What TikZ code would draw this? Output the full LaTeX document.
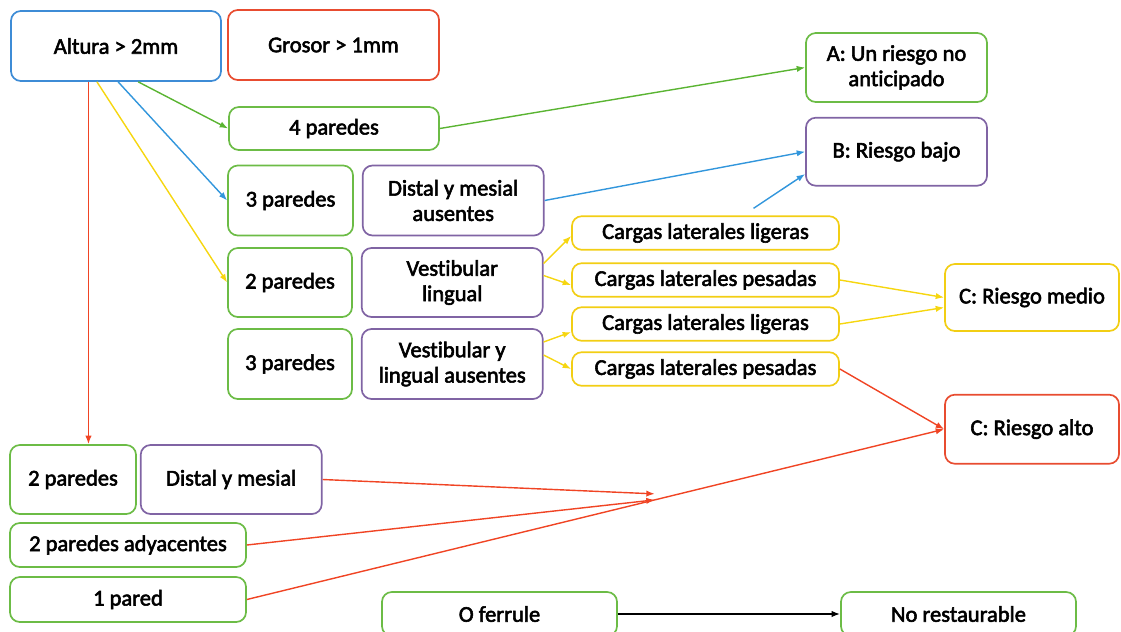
\documentclass[tikz,border=0pt]{standalone}
\usepackage{fontspec}
\setmainfont{Carlito}[Ligatures=NoCommon, FakeBold=2.5]
\usetikzlibrary{arrows.meta, positioning, calc}
\definecolor{boxgreen}{RGB}{108,188,70}
\definecolor{boxblue}{RGB}{62,140,214}
\definecolor{boxred}{RGB}{232,76,48}
\definecolor{boxpurple}{RGB}{128,100,164}
\definecolor{boxyellow}{RGB}{242,206,20}
\definecolor{wiregreen}{RGB}{90,180,50}
\definecolor{wireblue}{RGB}{50,150,220}
\definecolor{wirered}{RGB}{240,68,36}
\definecolor{wireyellow}{RGB}{246,214,16}
\tikzstyle{block} = [draw, rectangle, rounded corners=7pt, line width=1.2pt, align=center, inner sep=2pt, fill=white, font=\fontsize{16}{18}\selectfont]
\tikzstyle{wall} = [block, draw=boxgreen]
\tikzstyle{side} = [block, draw=boxpurple]
\tikzstyle{load} = [block, draw=boxyellow]
\tikzstyle{link} = [-{Latex[length=6pt, width=4.5pt]}, line width=1pt]

\begin{document}
\begin{tikzpicture}[x=0.025cm, y=-0.025cm]
    \clip (0,0) rectangle (1121,632);

    \node (altura) [block, draw=boxblue, minimum width=5.25cm, minimum height=1.75cm] at (116,46) {Altura > 2mm};
    \node (grosor) [block, draw=boxred, minimum width=5.275cm, minimum height=1.75cm] at (333.5,45) {Grosor > 1mm};
    \node (four) [wall, minimum width=5.25cm, minimum height=1.075cm] at (334,128.5) {4 paredes};

    \node (risk a) [wall, minimum width=4.525cm, minimum height=1.725cm] at (896.5,67.5) {A: Un riesgo no\\anticipado};
    \node (risk b) [side, below=0.35cm of risk a, minimum width=4.525cm, minimum height=1.7cm] {B: Riesgo bajo};

    \node (three a) [wall, minimum width=3.125cm, minimum height=1.75cm] at (290.5,200.5) {3 paredes};
    \node (distal a) [side, right=0.2cm of three a, minimum width=4.525cm, minimum height=1.75cm] {Distal y mesial\\ausentes};
    \node (two a) [wall, minimum width=3.1cm, minimum height=1.725cm] at (290,282.5) {2 paredes};
    \node (vest a) [side, right=0.2cm of two a, minimum width=4.525cm, minimum height=1.725cm] {Vestibular\\lingual};
    \node (three b) [wall, minimum width=3.1cm, minimum height=1.75cm] at (290,364) {3 paredes};
    \node (vest b) [side, right=0.2cm of three b, minimum width=4.525cm, minimum height=1.75cm] {Vestibular y\\lingual ausentes};

    \foreach \n/\y/\t in {light 1/233/ligeras, heavy 1/280/pesadas, light 2/324/ligeras, heavy 2/369/pesadas} {%
        \node (\n) [load, minimum width=6.675cm, minimum height=0.84cm] at (705.5,\y) {Cargas laterales \t};
    }

    \node (risk mid) [load, minimum width=4.35cm, minimum height=1.675cm] at (1032,297.5) {C: Riesgo medio};
    \node (risk high) [block, draw=boxred, below=1.55cm of risk mid, minimum width=4.35cm, minimum height=1.725cm] {C: Riesgo alto};

    \node (two b) [wall, minimum width=3.15cm, minimum height=1.725cm] at (73,479.5) {2 paredes};
    \node (distal b) [side, right=0.075cm of two b, minimum width=4.525cm, minimum height=1.725cm] {Distal y mesial};
    \node (adjacent) [wall, minimum width=5.9cm, minimum height=1.1cm] at (128,545) {2 paredes adyacentes};
    \node (one wall) [wall, minimum width=5.9cm, minimum height=1.125cm] at (128,599.5) {1 pared};

    \node (ferrule) [wall, minimum width=5.875cm, minimum height=1.1cm] at (499.5,614) {O ferrule};
    \node (lost) [wall, minimum width=5.875cm, minimum height=1.1cm] at (958.5,614) {No restaurable};

    % Arrows out of the height box.
    \draw [link, wirered] ($(altura.south west)!0.37!(altura.south east)$) coordinate (drop) -- (drop |- two b.north);
    \draw [link, wireyellow] ($(altura.south west)!0.41!(altura.south east)$) -- (two a.west);
    \draw [link, wireblue] ($(altura.south west)!0.51!(altura.south east)$) -- (three a.west);
    \draw [link, wiregreen] ($(altura.south west)!0.605!(altura.south east)$) -- (four.west);

    \draw [link, wiregreen] (four.east) -- (risk a.west);
    \draw [link, wireblue] (distal a.east) -- (risk b.west);
    \draw [link, wireblue] ($(light 1.north)+(48,-7)$) -- ($(risk b.south west)!0.18!(risk b.north west)$);

    \draw [link, wireyellow] ($(vest a.east)+(0,-19)$) -- ($(light 1.west)+(0,3)$);
    \draw [link, wireyellow] ($(vest a.east)+(0,-7)$) -- ($(heavy 1.west)+(0,5)$);
    \draw [link, wireyellow] ($(vest b.east)+(0,-22)$) -- ($(light 2.west)+(0,8)$);
    \draw [link, wireyellow] ($(vest b.east)+(0,-9)$) -- (heavy 2.west);

    \draw [link, wireyellow] (heavy 1.east) -- (risk mid.west);
    \draw [link, wireyellow] (light 2.east) -- ($(risk mid.west)+(0,10)$);
    \draw [link, wirered] (heavy 2.east) -- (risk high.west);

    % Walls that meet on the way to the high risk.
    \coordinate (hub) at ($(one wall.east)!0.585!(risk high.west)$);
    \draw [link, wirered] (one wall.east) -- (risk high.west);
    \draw [link, wirered] (distal b.east) -- ($(hub)+(0,-6)$);
    \draw [link, wirered] (adjacent.east) -- (hub);

    \draw [link] (ferrule.east) -- (lost.west);
\end{tikzpicture}
\end{document}
